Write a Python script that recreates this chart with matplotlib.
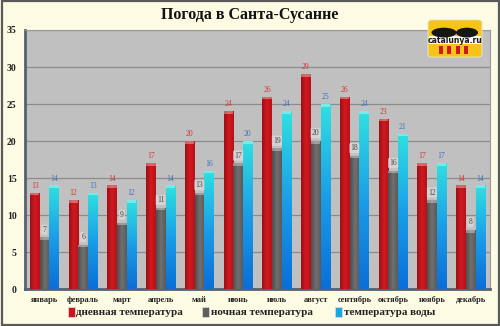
import numpy as np
import matplotlib
matplotlib.use("Agg")
import matplotlib.pyplot as plt
from matplotlib.patches import FancyBboxPatch, Rectangle, Ellipse
from matplotlib.colors import LinearSegmentedColormap

months = ["январь", "февраль", "март", "апрель", "май", "июнь",
          "июль", "август", "сентябрь", "октябрь", "ноябрь", "декабрь"]
day_temp = [13, 12, 14, 17, 20, 24, 26, 29, 26, 23, 17, 14]
night_temp = [7, 6, 9, 11, 13, 17, 19, 20, 18, 16, 12, 8]
water_temp = [14, 13, 12, 14, 16, 20, 24, 25, 24, 21, 17, 14]
series_names = ["дневная температура", "ночная температура", "температура воды"]

serif = ["Liberation Serif", "DejaVu Serif"]

fig = plt.figure(figsize=(5.0, 3.26), dpi=100)
fig.patch.set_facecolor("#fdfbe4")
fig.patches.append(Rectangle((0.003, 0.004), 0.994, 0.992, transform=fig.transFigure,
                             fill=False, edgecolor="#5a5a5a", linewidth=1.6))

ax = fig.add_axes([0.05, 0.113, 0.93, 0.795])
ax.set_facecolor("#c0c0c0")
ax.set_xlim(-0.5, 11.5)
ax.set_ylim(0, 35)

for y in range(5, 36, 5):
    ax.axhline(y, color="#8c8c8c", linewidth=0.9, zorder=1)

# vertical gradients for the bars
red_cm = LinearSegmentedColormap.from_list("r", ["#9e1015", "#d01a20", "#b51218"])
gray_cm = LinearSegmentedColormap.from_list("g", ["#4e4e4e", "#707070", "#5a5a5a"])
water_cm = LinearSegmentedColormap.from_list("w", ["#0a6fd8", "#1a9ee8", "#2fe0e0"])
hgrad = np.linspace(0, 1, 32).reshape(1, -1)
vgrad = np.linspace(0, 1, 64).reshape(-1, 1)

w = 0.245
x = np.arange(len(months))
offsets = [-w - 0.006, 0.0, w + 0.006]
styles = [(day_temp, red_cm, "h", "#d83236"),
          (night_temp, gray_cm, "h", "#4a4a4a"),
          (water_temp, water_cm, "v", "#3a72c0")]

for (vals, cm, mode, tcol), off in zip(styles, offsets):
    bars = ax.bar(x + off, vals, width=w, color="none", zorder=3)
    for b, v in zip(bars, vals):
        x0 = b.get_x()
        img = np.tile(hgrad, (2, 1)) if mode == "h" else vgrad
        im = ax.imshow(img, cmap=cm, extent=(x0, x0 + w, 0, v), origin="lower",
                       aspect="auto", zorder=3, interpolation="bilinear")
        im.set_clip_path(b)
        # light cap on top of each bar
        ax.add_patch(Rectangle((x0, v - 0.35), w, 0.35, facecolor="white", alpha=0.35,
                               edgecolor="none", zorder=4))
        if cm is gray_cm:
            ax.text(b.get_x() + w / 2, v + 0.5, str(v), ha="center", va="bottom",
                    fontsize=5.5, color=tcol, family=serif, zorder=5,
                    bbox=dict(boxstyle="round,pad=0.15", fc="#d8d8d8", ec="none", alpha=0.8))
        else:
            ax.text(b.get_x() + w / 2, v + 0.4, str(v), ha="center", va="bottom",
                    fontsize=5.5, color=tcol, family=serif, zorder=5)

ax.set_xticks(x)
ax.set_xticklabels(months, fontsize=6, fontweight="bold", family=serif, color="#222222")
ax.set_yticks(range(0, 36, 5))
ax.set_yticklabels([str(v) for v in range(0, 36, 5)], fontsize=7, fontweight="bold",
                   family=serif, color="#222222")
ax.tick_params(length=0, pad=6)
ax.tick_params(axis="x", pad=5)
for side in ["top", "right"]:
    ax.spines[side].set_color("#9a9a9a")
    ax.spines[side].set_linewidth(0.8)
for side in ["left", "bottom"]:
    ax.spines[side].set_color("#556070")
    ax.spines[side].set_linewidth(2.0)

fig.text(0.5, 0.955, "Погода в Санта-Сусанне", ha="center", va="center",
         fontsize=11.5, fontweight="bold", family=serif, color="#111111")

# legend
leg_colors = ["#c8161c", "#5e5e5e", "#18a6e6"]
leg_x = [0.135, 0.403, 0.67]
for lx, c, name in zip(leg_x, leg_colors, series_names):
    fig.patches.append(Rectangle((lx, 0.027), 0.014, 0.03, transform=fig.transFigure,
                                 facecolor=c, edgecolor="#dddddd", linewidth=0.5))
    fig.text(lx + 0.018, 0.042, name, ha="left", va="center", fontsize=8,
             fontweight="bold", family=serif, color="#222222")

# catalunya.ru badge
fig.patches.append(FancyBboxPatch((0.856, 0.825), 0.108, 0.114, transform=fig.transFigure,
                                  boxstyle="round,pad=0.0,rounding_size=0.008",
                                  facecolor="#f6c416", edgecolor="#e8e8e8", linewidth=0.6,
                                  zorder=10))
fig.patches.append(Rectangle((0.858, 0.865), 0.104, 0.024, transform=fig.transFigure,
                             facecolor="#fbfbf5", edgecolor="none", zorder=11))
for cx, wd in [(0.888, 0.05), (0.934, 0.044)]:
    fig.patches.append(Ellipse((cx, 0.9), wd, 0.03, transform=fig.transFigure,
                               facecolor="#161616", edgecolor="none", zorder=11))
fig.text(0.91, 0.876, "catalunya.ru", ha="center", va="center", fontsize=5.5,
         color="#1a1a1a", fontweight="bold", zorder=12)
for i in range(4):
    fig.patches.append(Rectangle((0.878 + i * 0.0168, 0.834), 0.008, 0.025,
                                 transform=fig.transFigure, facecolor="#d0181c",
                                 edgecolor="none", zorder=11))

fig.savefig("out.png", dpi=100, facecolor=fig.get_facecolor())
